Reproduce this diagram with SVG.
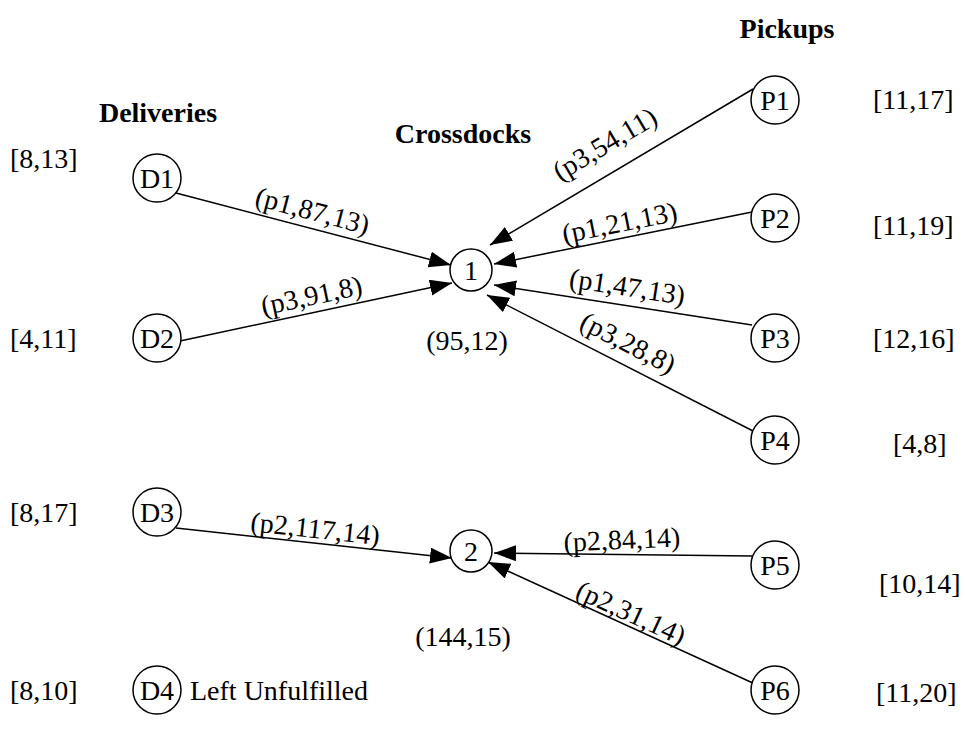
<svg xmlns="http://www.w3.org/2000/svg" width="965" height="754" viewBox="0 0 965 754">
  <style>
    text { font-family: "Liberation Serif", "Times New Roman", serif; font-size: 28px; fill: #000; }
    .title { font-weight: bold; text-anchor: middle; }
    .mid { text-anchor: middle; }
    .node circle { fill: #fff; stroke: #000; stroke-width: 1.5; }
    .edge { stroke: #000; stroke-width: 1.5; fill: none; marker-end: url(#arrow); }
  </style>
  <defs>
    <marker id="arrow" markerUnits="userSpaceOnUse" markerWidth="24" markerHeight="18" refX="22" refY="8" orient="auto">
      <path d="M0,0 L22,8 L0,16 z" fill="#000"/>
    </marker>
  </defs>

  <rect width="965" height="754" fill="#fff"/>

  <!-- column headings -->
  <text class="title" x="787" y="38">Pickups</text>
  <text class="title" x="158" y="122">Deliveries</text>
  <text class="title" x="463" y="143">Crossdocks</text>

  <!-- connectors -->
  <g id="edges">
    <line class="edge" x1="176" y1="193" x2="451" y2="265"/>
    <line class="edge" x1="180" y1="341" x2="452" y2="283"/>
    <line class="edge" x1="176" y1="528" x2="452" y2="558"/>
    <line class="edge" x1="753" y1="89" x2="490" y2="245"/>
    <line class="edge" x1="752" y1="212" x2="494" y2="264"/>
    <line class="edge" x1="752" y1="325" x2="494" y2="285"/>
    <line class="edge" x1="755" y1="432" x2="487" y2="295"/>
    <line class="edge" x1="752" y1="556" x2="494" y2="553"/>
    <line class="edge" x1="755" y1="684" x2="488" y2="562"/>

    <!-- edge labels, laid along their lines -->
    <text class="mid" transform="translate(312,213) rotate(14.7)" y="7">(p1,87,13)</text>
    <text class="mid" transform="translate(312,298) rotate(-12.0)" y="7">(p3,91,8)</text>
    <text class="mid" transform="translate(315,531) rotate(6.2)" y="7">(p2,117,14)</text>
    <text class="mid" transform="translate(606,146) rotate(-30.7)" y="7">(p3,54,11)</text>
    <text class="mid" transform="translate(620,225) rotate(-11.4)" y="7">(p1,21,13)</text>
    <text class="mid" transform="translate(627,289) rotate(8.8)" y="7">(p1,47,13)</text>
    <text class="mid" transform="translate(627,345) rotate(27.1)" y="7">(p3,28,8)</text>
    <text class="mid" transform="translate(622,542) rotate(-2.5)" y="7">(p2,84,14)</text>
    <text class="mid" transform="translate(630,615) rotate(24.6)" y="7">(p2,31,14)</text>
  </g>

  <!-- delivery nodes -->
  <g id="D1" class="node"><circle cx="157" cy="178" r="24"/><text class="mid" x="157" y="188">D1</text></g>
  <g id="D2" class="node"><circle cx="157" cy="338" r="24"/><text class="mid" x="157" y="348">D2</text></g>
  <g id="D3" class="node"><circle cx="157" cy="512" r="24"/><text class="mid" x="157" y="522">D3</text></g>
  <g id="D4" class="node"><circle cx="157" cy="690" r="24"/><text class="mid" x="157" y="700">D4</text></g>

  <!-- crossdock nodes -->
  <g id="C1" class="node"><circle cx="471" cy="270" r="21"/><text class="mid" x="471" y="280">1</text></g>
  <g id="C2" class="node"><circle cx="471" cy="551" r="21"/><text class="mid" x="471" y="561">2</text></g>

  <!-- pickup nodes -->
  <g id="P1" class="node"><circle cx="775" cy="100" r="24"/><text class="mid" x="775" y="110">P1</text></g>
  <g id="P2" class="node"><circle cx="775" cy="218" r="24"/><text class="mid" x="775" y="228">P2</text></g>
  <g id="P3" class="node"><circle cx="775" cy="338" r="24"/><text class="mid" x="775" y="348">P3</text></g>
  <g id="P4" class="node"><circle cx="775" cy="440" r="24"/><text class="mid" x="775" y="450">P4</text></g>
  <g id="P5" class="node"><circle cx="775" cy="565" r="24"/><text class="mid" x="775" y="575">P5</text></g>
  <g id="P6" class="node"><circle cx="775" cy="690" r="24"/><text class="mid" x="775" y="700">P6</text></g>

  <!-- time windows and crossdock annotations -->
  <g id="annotations">
    <text x="10" y="168">[8,13]</text>
    <text x="10" y="348">[4,11]</text>
    <text x="10" y="522">[8,17]</text>
    <text x="10" y="700">[8,10]</text>
    <text x="873" y="109">[11,17]</text>
    <text x="873" y="235">[11,19]</text>
    <text x="873" y="348">[12,16]</text>
    <text x="893" y="453">[4,8]</text>
    <text x="879" y="593">[10,14]</text>
    <text x="876" y="702">[11,20]</text>
    <text class="mid" x="467" y="350">(95,12)</text>
    <text class="mid" x="463" y="646">(144,15)</text>
    <text x="190" y="700">Left Unfulfilled</text>
  </g>
</svg>
